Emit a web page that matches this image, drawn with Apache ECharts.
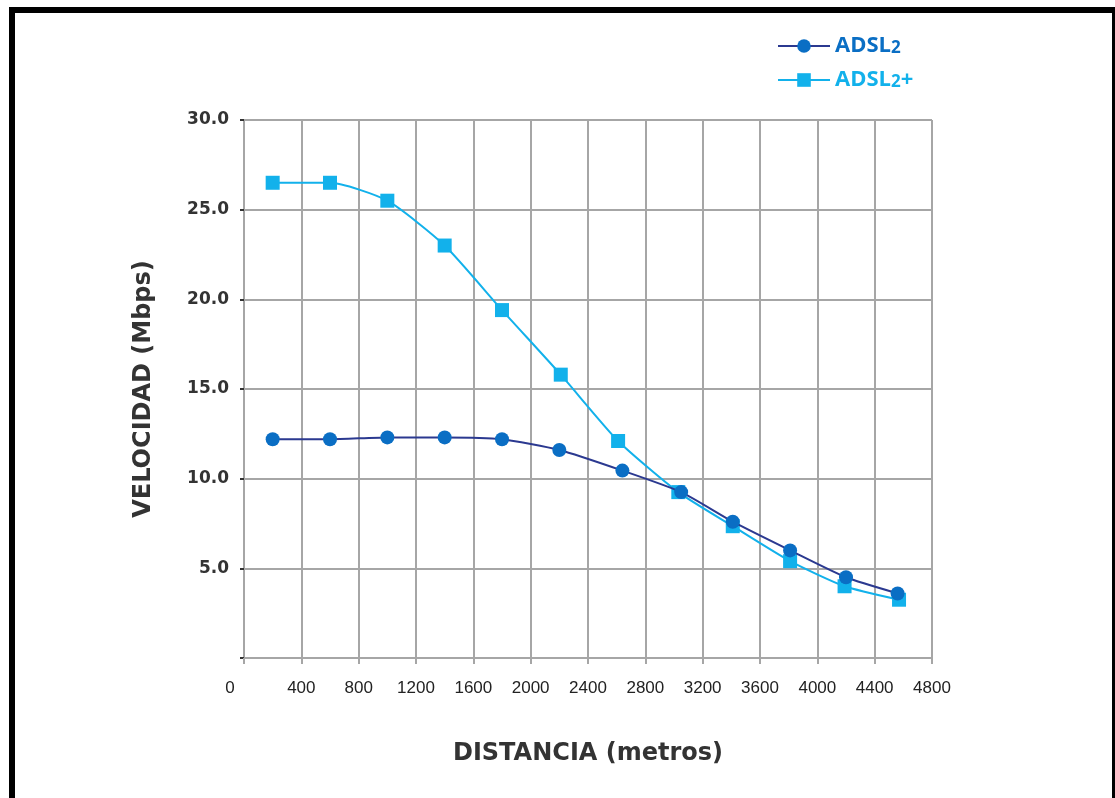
<!DOCTYPE html>
<html>
<head>
<meta charset="utf-8">
<script src="https://cdn.jsdelivr.net/npm/echarts@6/dist/echarts.min.js"></script>
<style>
  html, body { margin: 0; padding: 0; background: #fff; }
  #frame {
    position: absolute; left: 9px; top: 7px; width: 1097px; height: 791px;
    border-left: 6px solid #000; border-top: 6px solid #000; border-right: 3px solid #000;
  }
  #chart { position: absolute; left: 0; top: 0; width: 1115px; height: 798px; }
</style>
</head>
<body>
<div id="frame"></div>
<div id="chart"></div>
<script>
// distances (metros)
const adsl2Dist = [200, 600, 1000, 1400, 1800, 2200, 2640, 3050, 3410, 3810, 4200, 4560]
const adsl2Speed = [12.2, 12.2, 12.3, 12.3, 12.2, 11.6, 10.45, 9.25, 7.6, 6.0, 4.5, 3.6]
const adsl2PlusDist = [200, 600, 1000, 1400, 1800, 2210, 2610, 3030, 3410, 3810, 4190, 4570]
const adsl2PlusSpeed = [26.5, 26.5, 25.5, 23.0, 19.4, 15.8, 12.1, 9.25, 7.35, 5.4, 4.0, 3.25]

const darkLine = '#2b3990'
const darkMark = '#0a6ec4'
const lightBlue = '#12b1eb'
const gridColor = '#a6a6a6'

const zip = (xs, ys) => xs.map((x, i) => [x, ys[i]])

const chart = echarts.init(document.getElementById('chart'))

const nameStyle = { fontFamily: 'DejaVu Sans', fontWeight: 'bold', fontSize: 24, color: '#333' }

chart.setOption({
  animation: false,
  grid: { left: 244, right: 183, top: 120, bottom: 140 },
  legend: {
    orient: 'vertical',
    left: 772,
    top: 30,
    itemWidth: 52,
    itemHeight: 17,
    itemGap: 12,
    data: [
      { name: 'ADSL2', textStyle: { color: darkMark } },
      { name: 'ADSL2+', textStyle: { color: lightBlue } },
    ],
    formatter: name => name.replace('2', '{s|2}'),
    textStyle: {
      fontFamily: 'Open Sans',
      fontWeight: 'bold',
      fontSize: 22,
      rich: { s: { fontFamily: 'Open Sans', fontWeight: 'bold', fontSize: 17, verticalAlign: 'bottom', padding: [5, 0, 0, 0] } },
    },
  },
  xAxis: {
    type: 'value',
    min: 0,
    max: 4800,
    interval: 400,
    name: 'DISTANCIA (metros)',
    nameLocation: 'middle',
    nameGap: 84,
    nameTextStyle: nameStyle,
    axisLine: { lineStyle: { color: gridColor, width: 2 } },
    axisTick: { show: true, length: 6, lineStyle: { color: gridColor, width: 2 } },
    splitLine: { lineStyle: { color: gridColor, width: 2 } },
    axisLabel: {
      color: '#222',
      fontFamily: 'Liberation Sans',
      fontSize: 17,
      margin: 22,
      formatter: v => (v === 0 ? '{z|0}' : String(v)),
      rich: { z: { fontFamily: 'Liberation Sans', fontSize: 17, color: '#222', padding: [0, 28, 0, 0] } },
    },
  },
  yAxis: {
    type: 'value',
    min: 0,
    max: 30,
    interval: 5,
    name: 'VELOCIDAD (Mbps)',
    nameLocation: 'middle',
    nameGap: 88,
    nameTextStyle: nameStyle,
    axisLine: { show: true, lineStyle: { color: gridColor, width: 2 } },
    axisTick: { show: true, length: 4, lineStyle: { color: '#333', width: 2 } },
    splitLine: { lineStyle: { color: gridColor, width: 2 } },
    axisLabel: {
      color: '#333',
      fontFamily: 'DejaVu Sans',
      fontWeight: 'bold',
      fontSize: 17,
      margin: 15,
      formatter: v => (v === 0 ? '' : v.toFixed(1)),
    },
  },
  series: [
    {
      name: 'ADSL2+',
      type: 'line',
      z: 2,
      smooth: 0.2,
      symbol: 'rect',
      symbolSize: 14,
      lineStyle: { color: lightBlue, width: 2 },
      itemStyle: { color: lightBlue },
      data: zip(adsl2PlusDist, adsl2PlusSpeed),
    },
    {
      name: 'ADSL2',
      type: 'line',
      z: 3,
      smooth: 0.2,
      symbol: 'circle',
      symbolSize: 14,
      lineStyle: { color: darkLine, width: 2 },
      itemStyle: { color: darkMark },
      data: zip(adsl2Dist, adsl2Speed),
    },
  ],
})
</script>
</body>
</html>
